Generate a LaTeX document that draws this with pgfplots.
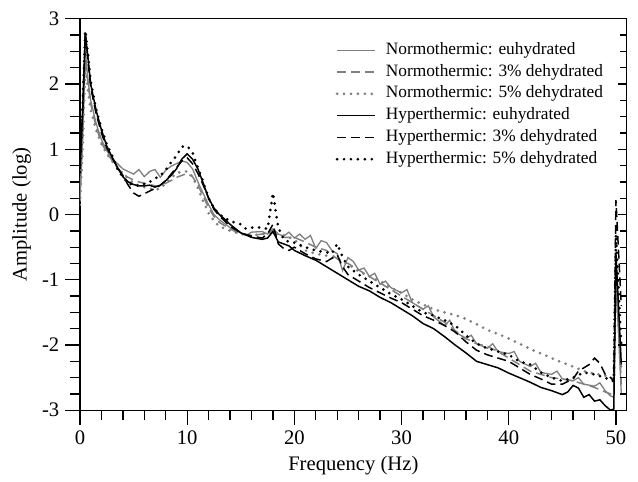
\documentclass[border=0pt]{standalone}
\usepackage{fontspec}
\setmainfont{Liberation Serif}
\usepackage{pgfplots}
\pgfplotsset{compat=1.18}
\usetikzlibrary{calc}
\definecolor{gr}{RGB}{128,128,128}
\pgfplotsset{
  dotsty/.style={line width=1.8pt, line cap=round, dash pattern=on 0pt off 4.2pt},
  dashsty/.style={line width=0.9pt, dash pattern=on 5.4pt off 3pt},
}
\begin{document}
\begin{tikzpicture}
\begin{axis}[
  scale only axis, width=331pt, height=237pt,
  xmin=0, xmax=51, ymin=-3, ymax=3,
  xtick={0,10,...,50}, minor x tick num=4,
  ytick={-3,-2,...,3}, minor y tick num=3,
  xtick pos=left, ytick pos=left, tick align=outside,
  major tick length=9pt, minor tick length=6pt,
  major tick style={black, line width=0.8pt},
  minor tick style={black, line width=0.8pt},
  axis line style={line width=0.8pt},
  /pgf/number format/assume math mode=true,
  ticklabel style={font=\fontsize{12.5}{14}\selectfont},
  label style={font=\fontsize{12.5}{14}\selectfont},
  xlabel={Frequency (Hz)}, ylabel={Amplitude (log)},
  xlabel style={at={(rel axis cs:0.5,-0.1418)}, anchor=center},
  ylabel style={at={(rel axis cs:-0.1064,0.5)}, anchor=center},
  legend style={draw=none, fill=none, at={(rel axis cs:0.467,0.946)}, anchor=north west,
    inner sep=0pt, font=\fontsize{10.5}{12}\selectfont, row sep=1.2pt, column sep=4.6pt,
    nodes={inner sep=1pt, text height=7.5pt, text depth=2.5pt}},
  legend cell align=left,
  legend image code/.code={\draw[#1] (0pt,0pt) -- (23pt,0pt);},
]
\coordinate (ll) at (rel axis cs:0,0);
% Normothermic: euhydrated (gray solid)
\addplot[gr, line width=0.8pt] coordinates {
(0,0.25)(0.25,1.2)(0.5,2.5)(0.75,2.05)(1,1.75)(1.5,1.4)(2,1.15)(2.5,0.98)(3,0.86)(3.5,0.78)
(4,0.7)(4.5,0.66)(5,0.62)(5.5,0.69)(6,0.58)(6.5,0.66)(7,0.69)(7.5,0.57)(8,0.68)(8.5,0.74)
(9,0.78)(9.5,0.82)(10,0.8)(10.5,0.7)(11,0.5)(11.5,0.32)(12,0.15)(12.5,0.0)(13,-0.08)(14,-0.2)
(15,-0.28)(15.5,-0.32)(16,-0.27)(17,-0.26)(17.5,-0.3)(18,-0.22)(18.5,-0.3)(19,-0.33)(19.5,-0.27)
(20,-0.36)(20.5,-0.3)(21,-0.38)(21.5,-0.32)(22,-0.52)(22.5,-0.4)(23,-0.43)(23.5,-0.55)(24,-0.6)
(24.5,-0.86)(25,-0.66)(25.5,-0.72)(26,-0.85)(26.5,-0.82)(27,-0.95)(27.5,-0.9)(28,-1.07)(28.5,-1.02)
(29,-1.12)(30,-1.2)(30.5,-1.15)(31,-1.35)(32,-1.45)(32.5,-1.4)(33,-1.57)(34,-1.7)(34.5,-1.62)
(35,-1.8)(36,-1.9)(36.5,-1.85)(37,-1.98)(38,-2.05)(38.5,-1.98)(39,-2.1)(40,-2.13)(40.5,-2.1)
(41,-2.25)(42,-2.33)(42.5,-2.28)(43,-2.42)(44,-2.45)(44.5,-2.4)(45,-2.52)(46,-2.55)(46.5,-2.5)
(47,-2.6)(48,-2.63)(48.5,-2.58)(49,-2.7)(49.5,-2.78)(49.8,-2.8)(50,-1.0)(50.5,-2.75)};
\addlegendentry{Normothermic: euhydrated}
% Normothermic: 3% dehydrated (gray dashed)
\addplot[gr, dashsty] coordinates {
(0,0.2)(0.25,1.2)(0.5,2.45)(0.75,2.0)(1,1.7)(1.5,1.35)(2,1.1)(2.5,0.95)(3,0.83)(3.5,0.72)
(4,0.62)(4.5,0.57)(5,0.53)(5.5,0.5)(6,0.48)(6.5,0.46)(7,0.44)(7.5,0.44)(8,0.48)(8.5,0.52)
(9,0.57)(9.5,0.6)(10,0.63)(10.5,0.58)(11,0.45)(11.5,0.28)(12,0.1)(12.5,-0.03)(13,-0.12)(14,-0.22)
(15,-0.3)(16,-0.32)(17,-0.3)(18,-0.25)(18.5,-0.3)(19,-0.35)(20,-0.35)(21,-0.42)(22,-0.5)(23,-0.55)
(24,-0.68)(25,-0.75)(26,-0.85)(27,-0.95)(28,-1.05)(29,-1.15)(30,-1.25)(31,-1.35)(32,-1.45)(33,-1.55)
(34,-1.65)(35,-1.78)(36,-1.9)(37,-1.98)(38,-2.02)(39,-2.1)(40,-2.2)(41,-2.3)(42,-2.4)(43,-2.45)
(44,-2.5)(45,-2.52)(46,-2.55)(47,-2.6)(48,-2.65)(49,-2.72)(49.5,-2.75)(49.8,-2.76)(50,-0.7)(50.5,-2.6)};
\addlegendentry{Normothermic: 3\% dehydrated}
% Normothermic: 5% dehydrated (gray dotted)
\addplot[gr, dotsty] coordinates {
(0,0.15)(0.25,1.0)(0.5,2.3)(0.75,1.9)(1,1.6)(1.5,1.3)(2,1.08)(2.5,0.93)(3,0.82)(3.5,0.72)
(4,0.63)(4.5,0.55)(5,0.48)(5.5,0.45)(6,0.42)(6.5,0.4)(7,0.38)(7.5,0.4)(8,0.48)(8.5,0.56)
(9,0.63)(9.5,0.66)(10,0.66)(10.5,0.58)(11,0.4)(11.5,0.2)(12,0.02)(12.5,-0.1)(13,-0.18)(14,-0.25)
(15,-0.3)(16,-0.32)(17,-0.3)(18,-0.28)(19,-0.32)(20,-0.38)(21,-0.55)(22,-0.6)(23,-0.63)(24,-0.68)
(25,-0.76)(26,-0.87)(27,-0.95)(28,-1.02)(29,-1.12)(30,-1.2)(31,-1.3)(32,-1.38)(33,-1.45)(34,-1.5)
(35,-1.54)(36,-1.6)(37,-1.68)(38,-1.77)(39,-1.83)(40,-1.9)(41,-1.98)(42,-2.06)(43,-2.13)(44,-2.2)
(45,-2.27)(46,-2.33)(47,-2.4)(48,-2.44)(49,-2.47)(49.5,-2.5)(49.8,-2.52)(50,-0.9)(50.5,-2.4)};
\addlegendentry{Normothermic: 5\% dehydrated}
% Hyperthermic: euhydrated (black solid)
\addplot[black, line width=0.9pt] coordinates {
(0,0.7)(0.25,1.6)(0.5,2.78)(0.75,2.4)(1,2.0)(1.5,1.6)(2,1.3)(2.5,1.05)(3,0.88)(3.5,0.72)
(4,0.58)(4.5,0.5)(5,0.46)(5.5,0.44)(6,0.44)(6.5,0.45)(7,0.42)(7.5,0.45)(8,0.52)(8.5,0.6)
(9,0.7)(9.5,0.85)(10,0.93)(10.5,0.85)(11,0.7)(11.5,0.48)(12,0.25)(12.5,0.1)(13,0.0)(13.5,-0.07)
(14,-0.15)(15,-0.28)(16,-0.35)(17,-0.38)(17.5,-0.36)(18,-0.26)(18.5,-0.42)(19,-0.45)(19.5,-0.48)
(20,-0.55)(21,-0.63)(22,-0.7)(23,-0.8)(24,-0.9)(25,-1.0)(26,-1.1)(27,-1.17)(28,-1.27)(29,-1.35)
(30,-1.45)(31,-1.55)(32,-1.67)(33,-1.75)(34,-1.87)(35,-2.0)(36,-2.12)(37,-2.25)(38,-2.3)(39,-2.35)
(40,-2.43)(41,-2.5)(42,-2.57)(43,-2.65)(44,-2.7)(45,-2.76)(45.5,-2.72)(46,-2.62)(46.5,-2.66)
(47,-2.8)(47.5,-2.76)(48,-2.86)(48.5,-2.84)(49,-2.93)(49.5,-3.0)(49.8,-2.98)(50,-0.6)(50.5,-2.3)};
\addlegendentry{Hyperthermic: euhydrated}
% Hyperthermic: 3% dehydrated (black dashed)
\addplot[black, dashsty] coordinates {
(0,0.7)(0.25,1.6)(0.5,2.78)(0.75,2.35)(1,1.95)(1.5,1.55)(2,1.25)(2.5,1.02)(3,0.87)(3.5,0.72)
(4,0.6)(4.5,0.45)(5,0.33)(5.5,0.28)(6,0.32)(6.5,0.36)(7,0.4)(7.5,0.45)(8,0.52)(8.5,0.62)
(9,0.72)(9.5,0.82)(10,0.87)(10.5,0.78)(11,0.63)(11.5,0.45)(12,0.25)(12.5,0.08)(13,-0.02)(13.5,-0.1)
(14,-0.18)(15,-0.28)(16,-0.33)(17,-0.36)(17.5,-0.3)(18,-0.15)(18.5,-0.45)(19,-0.52)(19.5,-0.55)
(20,-0.5)(21,-0.6)(22,-0.68)(23,-0.72)(24,-0.62)(24.5,-0.8)(25,-0.92)(26,-1.02)(27,-1.12)(28,-1.2)
(29,-1.28)(30,-1.35)(31,-1.45)(32,-1.55)(33,-1.62)(34,-1.7)(35,-1.8)(36,-1.95)(37,-2.08)(38,-2.15)
(39,-2.2)(40,-2.25)(41,-2.35)(42,-2.45)(43,-2.52)(44,-2.6)(45,-2.6)(46,-2.52)(46.5,-2.4)(47,-2.35)
(47.5,-2.3)(48,-2.2)(48.5,-2.28)(49,-2.45)(49.5,-2.5)(49.8,-2.55)(50,0.22)(50.5,-1.4)};
\addlegendentry{Hyperthermic: 3\% dehydrated}
% Hyperthermic: 5% dehydrated (black dotted)
\addplot[black, dotsty] coordinates {
(0,0.65)(0.25,1.7)(0.5,2.82)(0.75,2.45)(1,2.05)(1.5,1.62)(2,1.32)(2.5,1.08)(3,0.9)(3.5,0.7)
(4,0.57)(4.5,0.48)(5,0.45)(5.5,0.44)(6,0.47)(6.5,0.5)(7,0.55)(7.5,0.6)(8,0.68)(8.5,0.8)
(9,0.9)(9.5,1.04)(10,1.05)(10.5,0.95)(11,0.72)(11.5,0.5)(12,0.25)(12.5,0.1)(13,0.0)(13.5,-0.05)
(14,-0.1)(15,-0.15)(15.5,-0.22)(16,-0.2)(17,-0.2)(17.5,-0.22)(18,0.33)(18.5,-0.2)(19,-0.38)
(19.5,-0.42)(20,-0.43)(21,-0.5)(22,-0.55)(23,-0.58)(23.5,-0.6)(24,-0.45)(24.5,-0.65)(25,-0.8)
(26,-0.92)(27,-1.02)(28,-1.12)(29,-1.22)(30,-1.3)(31,-1.4)(32,-1.5)(33,-1.55)(34,-1.62)(35,-1.7)
(36,-1.85)(37,-1.98)(38,-2.05)(39,-2.1)(40,-2.15)(41,-2.25)(42,-2.3)(43,-2.42)(44,-2.5)(45,-2.55)
(46,-2.5)(47,-2.42)(48,-2.45)(49,-2.5)(49.5,-2.55)(49.8,-2.55)(50,-0.3)(50.5,-2.0)};
\addlegendentry{Hyperthermic: 5\% dehydrated}
\end{axis}
\begin{axis}[
  scale only axis, width=331pt, height=237pt,
  xmin=0, xmax=51, ymin=-3, ymax=3,
  axis x line=none, axis y line*=right,
  ytick={-3,-2,...,3}, minor y tick num=3,
  tick align=inside, yticklabels={},
  major tick length=5pt, minor tick length=4pt,
  major tick style={black, line width=0.8pt},
  minor tick style={black, line width=0.8pt},
  axis line style={line width=0.8pt},
]
\end{axis}
\path ($(ll)+(-48.42pt,-43.2pt)$) rectangle ($(ll)+(334.38pt,248.4pt)$);
\end{tikzpicture}
\end{document}
